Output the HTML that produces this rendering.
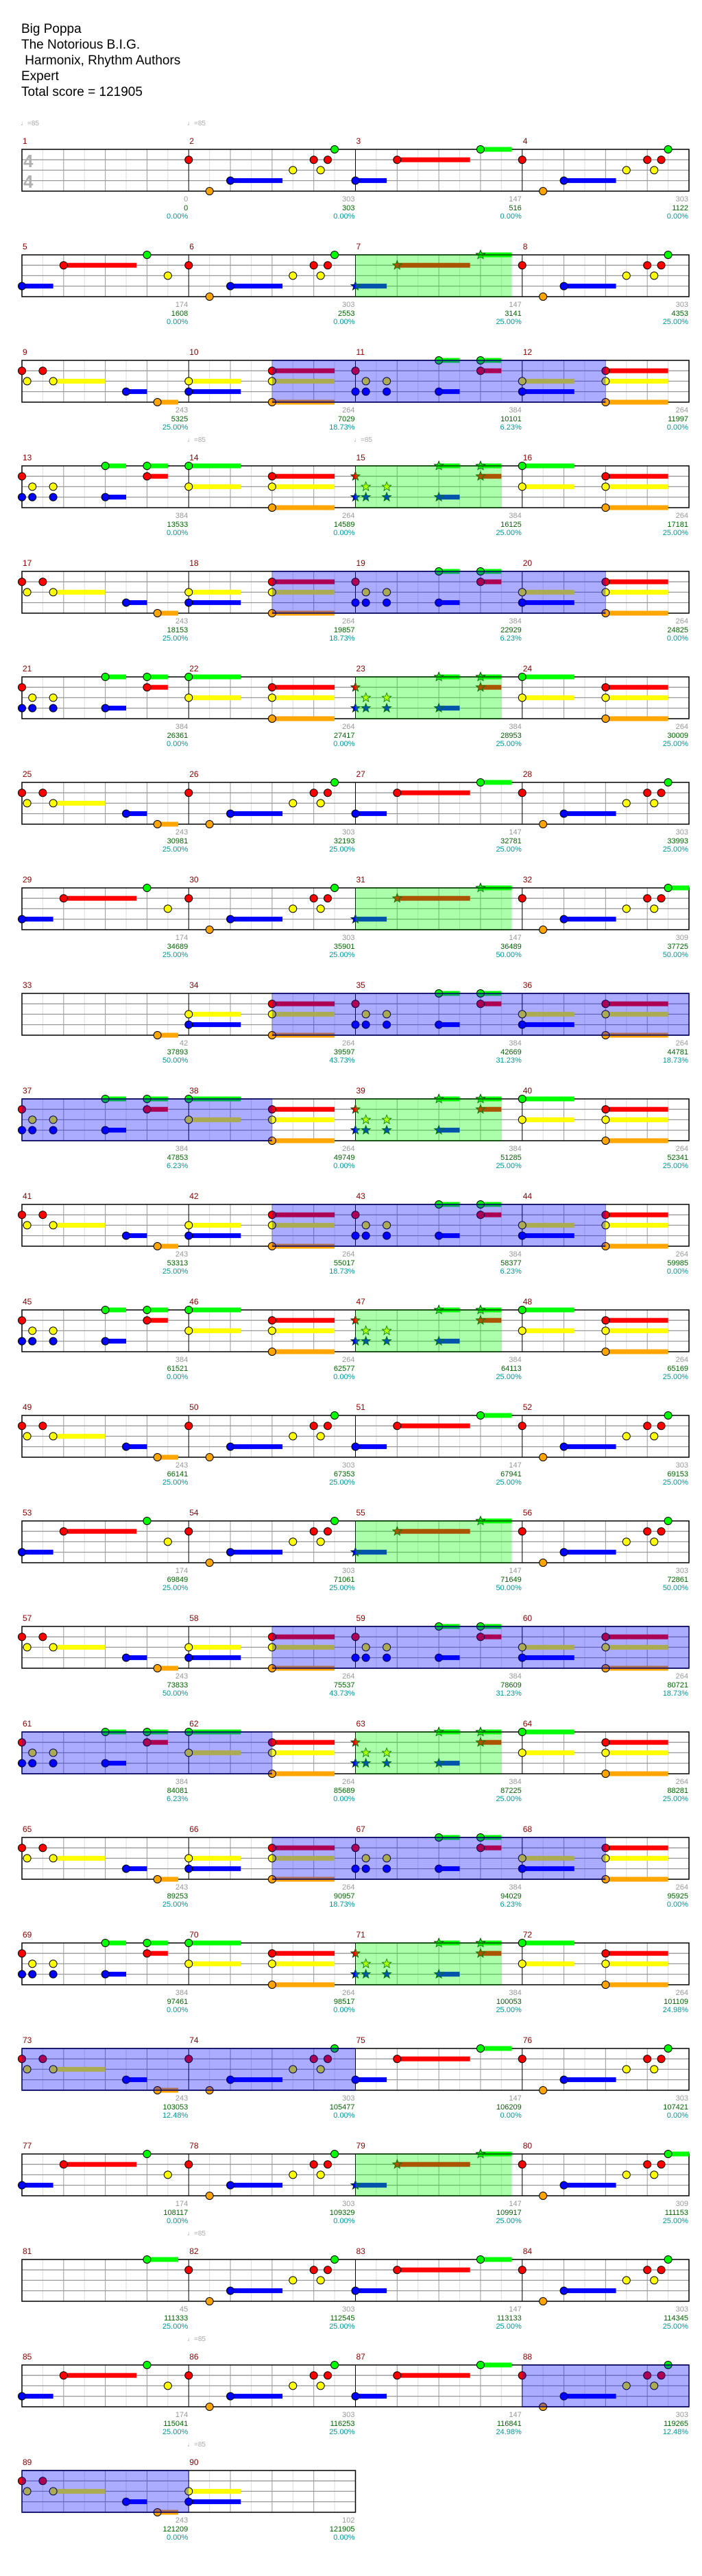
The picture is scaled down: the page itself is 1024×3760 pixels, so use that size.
<!DOCTYPE html>
<html><head><meta charset="utf-8">
<style>
html,body{margin:0;padding:0;background:#fff;}
body{width:1024px;height:3760px;position:relative;overflow:hidden;font-family:"Liberation Sans",sans-serif;}
svg{position:absolute;left:0;top:0;}
.t{position:absolute;left:31px;top:31px;font-size:19px;line-height:23px;color:#000;white-space:pre;}
.ts{position:absolute;left:34px;font-size:26px;line-height:26px;color:#b0b0b0;font-weight:bold;}
.tp{position:absolute;font-size:10px;line-height:12px;color:#aaa;}
.mn{position:absolute;left:32px;font-size:12px;line-height:14px;color:#8b0000;white-space:nowrap;}
.mn span{display:inline-block;width:243.25px;padding-left:1px;box-sizing:border-box;}
.sc{position:absolute;left:32px;font-size:11px;line-height:12.5px;white-space:nowrap;}
.sc span{display:inline-block;width:243.25px;text-align:right;padding-right:1px;box-sizing:border-box;vertical-align:top;}
.sc a{display:block;color:#999;}
.sc b{display:block;color:#006400;font-weight:normal;}
.sc i{display:block;color:#009999;font-style:normal;}
</style></head><body>
<svg id="s" width="1024" height="3760" xmlns="http://www.w3.org/2000/svg"></svg>
<div class="t">Big Poppa
The Notorious B.I.G.
 Harmonix, Rhythm Authors
Expert
Total score = 121905</div>
<div class="ts" style="top:222px">4</div>
<div class="ts" style="top:252px">4</div>
<div class="tp" style="left:30px;top:175px">♩=85</div>
<div class="tp" style="left:273px;top:175px">♩=85</div>
<div class="tp" style="left:273px;top:637px">♩=85</div>
<div class="tp" style="left:516px;top:637px">♩=85</div>
<div class="tp" style="left:273px;top:3255px">♩=85</div>
<div class="tp" style="left:273px;top:3409px">♩=85</div>
<div class="tp" style="left:273px;top:3563px">♩=85</div>

<div class="mn" style="top:199px"><span>1</span><span>2</span><span>3</span><span>4</span></div>
<div class="mn" style="top:353px"><span>5</span><span>6</span><span>7</span><span>8</span></div>
<div class="mn" style="top:507px"><span>9</span><span>10</span><span>11</span><span>12</span></div>
<div class="mn" style="top:661px"><span>13</span><span>14</span><span>15</span><span>16</span></div>
<div class="mn" style="top:815px"><span>17</span><span>18</span><span>19</span><span>20</span></div>
<div class="mn" style="top:969px"><span>21</span><span>22</span><span>23</span><span>24</span></div>
<div class="mn" style="top:1123px"><span>25</span><span>26</span><span>27</span><span>28</span></div>
<div class="mn" style="top:1277px"><span>29</span><span>30</span><span>31</span><span>32</span></div>
<div class="mn" style="top:1431px"><span>33</span><span>34</span><span>35</span><span>36</span></div>
<div class="mn" style="top:1585px"><span>37</span><span>38</span><span>39</span><span>40</span></div>
<div class="mn" style="top:1739px"><span>41</span><span>42</span><span>43</span><span>44</span></div>
<div class="mn" style="top:1893px"><span>45</span><span>46</span><span>47</span><span>48</span></div>
<div class="mn" style="top:2047px"><span>49</span><span>50</span><span>51</span><span>52</span></div>
<div class="mn" style="top:2201px"><span>53</span><span>54</span><span>55</span><span>56</span></div>
<div class="mn" style="top:2355px"><span>57</span><span>58</span><span>59</span><span>60</span></div>
<div class="mn" style="top:2509px"><span>61</span><span>62</span><span>63</span><span>64</span></div>
<div class="mn" style="top:2663px"><span>65</span><span>66</span><span>67</span><span>68</span></div>
<div class="mn" style="top:2817px"><span>69</span><span>70</span><span>71</span><span>72</span></div>
<div class="mn" style="top:2971px"><span>73</span><span>74</span><span>75</span><span>76</span></div>
<div class="mn" style="top:3125px"><span>77</span><span>78</span><span>79</span><span>80</span></div>
<div class="mn" style="top:3279px"><span>81</span><span>82</span><span>83</span><span>84</span></div>
<div class="mn" style="top:3433px"><span>85</span><span>86</span><span>87</span><span>88</span></div>
<div class="mn" style="top:3587px"><span>89</span><span>90</span></div>

<div class="sc" style="top:285px"><span><a>0</a><b>0</b><i>0.00%</i></span><span><a>303</a><b>303</b><i>0.00%</i></span><span><a>147</a><b>516</b><i>0.00%</i></span><span><a>303</a><b>1122</b><i>0.00%</i></span></div>
<div class="sc" style="top:439px"><span><a>174</a><b>1608</b><i>0.00%</i></span><span><a>303</a><b>2553</b><i>0.00%</i></span><span><a>147</a><b>3141</b><i>25.00%</i></span><span><a>303</a><b>4353</b><i>25.00%</i></span></div>
<div class="sc" style="top:593px"><span><a>243</a><b>5325</b><i>25.00%</i></span><span><a>264</a><b>7029</b><i>18.73%</i></span><span><a>384</a><b>10101</b><i>6.23%</i></span><span><a>264</a><b>11997</b><i>0.00%</i></span></div>
<div class="sc" style="top:747px"><span><a>384</a><b>13533</b><i>0.00%</i></span><span><a>264</a><b>14589</b><i>0.00%</i></span><span><a>384</a><b>16125</b><i>25.00%</i></span><span><a>264</a><b>17181</b><i>25.00%</i></span></div>
<div class="sc" style="top:901px"><span><a>243</a><b>18153</b><i>25.00%</i></span><span><a>264</a><b>19857</b><i>18.73%</i></span><span><a>384</a><b>22929</b><i>6.23%</i></span><span><a>264</a><b>24825</b><i>0.00%</i></span></div>
<div class="sc" style="top:1055px"><span><a>384</a><b>26361</b><i>0.00%</i></span><span><a>264</a><b>27417</b><i>0.00%</i></span><span><a>384</a><b>28953</b><i>25.00%</i></span><span><a>264</a><b>30009</b><i>25.00%</i></span></div>
<div class="sc" style="top:1209px"><span><a>243</a><b>30981</b><i>25.00%</i></span><span><a>303</a><b>32193</b><i>25.00%</i></span><span><a>147</a><b>32781</b><i>25.00%</i></span><span><a>303</a><b>33993</b><i>25.00%</i></span></div>
<div class="sc" style="top:1363px"><span><a>174</a><b>34689</b><i>25.00%</i></span><span><a>303</a><b>35901</b><i>25.00%</i></span><span><a>147</a><b>36489</b><i>50.00%</i></span><span><a>309</a><b>37725</b><i>50.00%</i></span></div>
<div class="sc" style="top:1517px"><span><a>42</a><b>37893</b><i>50.00%</i></span><span><a>264</a><b>39597</b><i>43.73%</i></span><span><a>384</a><b>42669</b><i>31.23%</i></span><span><a>264</a><b>44781</b><i>18.73%</i></span></div>
<div class="sc" style="top:1671px"><span><a>384</a><b>47853</b><i>6.23%</i></span><span><a>264</a><b>49749</b><i>0.00%</i></span><span><a>384</a><b>51285</b><i>25.00%</i></span><span><a>264</a><b>52341</b><i>25.00%</i></span></div>
<div class="sc" style="top:1825px"><span><a>243</a><b>53313</b><i>25.00%</i></span><span><a>264</a><b>55017</b><i>18.73%</i></span><span><a>384</a><b>58377</b><i>6.23%</i></span><span><a>264</a><b>59985</b><i>0.00%</i></span></div>
<div class="sc" style="top:1979px"><span><a>384</a><b>61521</b><i>0.00%</i></span><span><a>264</a><b>62577</b><i>0.00%</i></span><span><a>384</a><b>64113</b><i>25.00%</i></span><span><a>264</a><b>65169</b><i>25.00%</i></span></div>
<div class="sc" style="top:2133px"><span><a>243</a><b>66141</b><i>25.00%</i></span><span><a>303</a><b>67353</b><i>25.00%</i></span><span><a>147</a><b>67941</b><i>25.00%</i></span><span><a>303</a><b>69153</b><i>25.00%</i></span></div>
<div class="sc" style="top:2287px"><span><a>174</a><b>69849</b><i>25.00%</i></span><span><a>303</a><b>71061</b><i>25.00%</i></span><span><a>147</a><b>71649</b><i>50.00%</i></span><span><a>303</a><b>72861</b><i>50.00%</i></span></div>
<div class="sc" style="top:2441px"><span><a>243</a><b>73833</b><i>50.00%</i></span><span><a>264</a><b>75537</b><i>43.73%</i></span><span><a>384</a><b>78609</b><i>31.23%</i></span><span><a>264</a><b>80721</b><i>18.73%</i></span></div>
<div class="sc" style="top:2595px"><span><a>384</a><b>84081</b><i>6.23%</i></span><span><a>264</a><b>85689</b><i>0.00%</i></span><span><a>384</a><b>87225</b><i>25.00%</i></span><span><a>264</a><b>88281</b><i>25.00%</i></span></div>
<div class="sc" style="top:2749px"><span><a>243</a><b>89253</b><i>25.00%</i></span><span><a>264</a><b>90957</b><i>18.73%</i></span><span><a>384</a><b>94029</b><i>6.23%</i></span><span><a>264</a><b>95925</b><i>0.00%</i></span></div>
<div class="sc" style="top:2903px"><span><a>384</a><b>97461</b><i>0.00%</i></span><span><a>264</a><b>98517</b><i>0.00%</i></span><span><a>384</a><b>100053</b><i>25.00%</i></span><span><a>264</a><b>101109</b><i>24.98%</i></span></div>
<div class="sc" style="top:3057px"><span><a>243</a><b>103053</b><i>12.48%</i></span><span><a>303</a><b>105477</b><i>0.00%</i></span><span><a>147</a><b>106209</b><i>0.00%</i></span><span><a>303</a><b>107421</b><i>0.00%</i></span></div>
<div class="sc" style="top:3211px"><span><a>174</a><b>108117</b><i>0.00%</i></span><span><a>303</a><b>109329</b><i>0.00%</i></span><span><a>147</a><b>109917</b><i>25.00%</i></span><span><a>309</a><b>111153</b><i>25.00%</i></span></div>
<div class="sc" style="top:3365px"><span><a>45</a><b>111333</b><i>25.00%</i></span><span><a>303</a><b>112545</b><i>25.00%</i></span><span><a>147</a><b>113133</b><i>25.00%</i></span><span><a>303</a><b>114345</b><i>25.00%</i></span></div>
<div class="sc" style="top:3519px"><span><a>174</a><b>115041</b><i>25.00%</i></span><span><a>303</a><b>116253</b><i>25.00%</i></span><span><a>147</a><b>116841</b><i>24.98%</i></span><span><a>303</a><b>119265</b><i>12.48%</i></span></div>
<div class="sc" style="top:3673px"><span><a>243</a><b>121209</b><i>0.00%</i></span><span><a>102</a><b>121905</b><i>0.00%</i></span></div>

<script>
(function(){
var NS="http://www.w3.org/2000/svg",svg=document.getElementById('s');
var W=243.25,X0=32,T0=218,RS=154,LY=[0,15.2,30.4,45.6,61],E=W/8;
var C=['#00ff00','#ff0000','#ffff00','#0000ff','#ffa500'];
function el(n,a){var e=document.createElementNS(NS,n);for(var k in a)e.setAttribute(k,a[k]);svg.appendChild(e);return e;}
var P2=[[1,0],[4,1],[3,2,4.5],[2,5],[1,6],[2,6.33],[1,6.67],[0,7]];
var pats={
E:[],P2:P2,P2g:P2.slice(0,7).concat([[0,7,8]]),
P3:[[3,0,1.5],[1,2,5.5],[0,6,7.5]],
P1:[[3,0,1.5],[1,2,5.5],[0,6],[2,7]],
Q:[[1,0],[2,0.25],[1,1],[2,1.5,4],[3,5,6],[4,6.5,7.5]],
K:[[1,0],[3,0],[2,0.5],[3,0.5],[2,1.5],[3,1.5],[0,4,5],[3,4,5],[0,6,7],[1,6,7]],
N:[[2,0,2.5],[3,0,2.5],[1,4,7],[2,4,7],[4,4,7]],
M:[[0,0,2.5],[2,0,2.5],[1,4,7],[2,4,7],[4,4,7]],
O33:[[4,6.5,7.5]],G81:[[0,6,7.5]],E90:[[2,0,2.5],[3,0,2.5]]};
var seq="E P2 P3 P2 P1 P2 P3* P2 Q N K N K M K* M Q N K N K M K* M Q P2 P3 P2 P1 P2 P3* P2g O33 N K N K M K* M Q N K N K M K* M Q P2 P3 P2 P1 P2 P3* P2 Q N K N K M K* M Q N K N K M K* M Q P2 P3 P2 P1 P2 P3* P2g G81 P2 P3 P2 P1 P2 P3 P2 Q E90".split(' ');
var blue=[[76,92],[140,156],[268,300],[332,348],[460,492],[524,540],[576,592],[696,712]];
var green=[];
seq.forEach(function(s,i){if(s.indexOf('*')>=0){green.push([i*8,i*8+(s.indexOf('P3')==0?7.5:7)]);}});
function gx(g){var r=Math.floor(g/32);return X0+(g-r*32)*E;}
// grids
for(var r=0;r<23;r++){
 var T=T0+RS*r,n=(r==22)?2:4,w=n*W;
 var k;
 for(k=1;k<n*8;k++){if(k%2)el('line',{x1:X0+k*E,y1:T,x2:X0+k*E,y2:T+61,stroke:'#dddddd','stroke-width':1});}
 for(k=2;k<n*8;k+=2){if(k%8)el('line',{x1:X0+k*E,y1:T,x2:X0+k*E,y2:T+61,stroke:'#999999','stroke-width':1});}
 for(k=1;k<4;k++)el('line',{x1:X0,y1:T+LY[k],x2:X0+w,y2:T+LY[k],stroke:'#999999','stroke-width':1.3});
 for(k=8;k<n*8;k+=8)el('line',{x1:X0+k*E,y1:T,x2:X0+k*E,y2:T+61,stroke:'#000','stroke-width':1});
 el('rect',{x:X0,y:T,width:w,height:61,fill:'none',stroke:'#000','stroke-width':1.5});
}
// notes
function star(cx,cy,R,ri,fill){var p=[];for(var i=0;i<10;i++){var a=-Math.PI/2+i*Math.PI/5,rr=i%2?ri:R;p.push((cx+rr*Math.cos(a)).toFixed(2)+','+(cy+rr*Math.sin(a)).toFixed(2));}
 el('polygon',{points:p.join(' '),fill:fill,stroke:'#003300','stroke-width':0.8});}
seq.forEach(function(s,i){
 var st=s.indexOf('*')>=0,p=pats[s.replace('*','')];
 var r=Math.floor(i/4),c=i%4,T=T0+RS*r,mx=X0+c*W;
 p.forEach(function(nt){if(nt[2]){var y=T+LY[nt[0]];el('rect',{x:mx+nt[1]*E,y:y-3.5,width:(nt[2]-nt[1])*E,height:7,fill:C[nt[0]]});}});
 p.forEach(function(nt){var x=mx+nt[1]*E,y=T+LY[nt[0]];
  if(st)star(x,y,7,3,C[nt[0]]);else el('ellipse',{cx:x,cy:y,rx:5.5,ry:5.5,fill:C[nt[0]],stroke:'#000','stroke-width':1});});
});
// overlays
function reg(list,fill,edge){list.forEach(function(b){
 for(var r=Math.floor(b[0]/32);r<=Math.floor((b[1]-0.001)/32);r++){
  var a=Math.max(b[0],r*32),z=Math.min(b[1],(r+1)*32);if(z<=a)continue;
  var T=T0+RS*r,x1=X0+(a-r*32)*E,x2=X0+(z-r*32)*E;
  el('rect',{x:x1,y:T,width:x2-x1,height:61,fill:fill});
  el('line',{x1:x1,y1:T,x2:x2,y2:T,stroke:edge,'stroke-width':1.5});
  el('line',{x1:x1,y1:T+61,x2:x2,y2:T+61,stroke:edge,'stroke-width':1.5});
 }});}
reg(blue,'rgba(0,0,255,0.33)','#000066');
reg(green,'rgba(0,255,0,0.33)','#004400');
})();
</script>
</body></html>
